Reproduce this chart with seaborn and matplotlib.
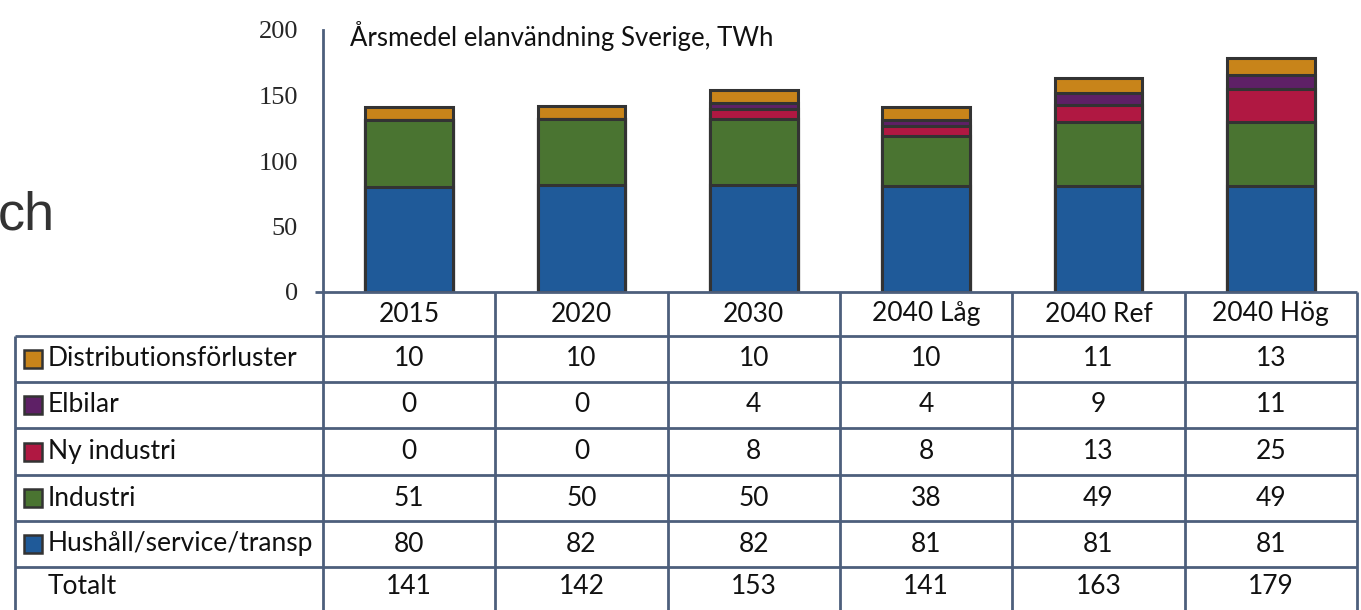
import numpy as np
import pandas as pd
import seaborn as sns
import matplotlib.pyplot as plt
from matplotlib.patches import Rectangle

# Data (TWh)
years = ["2015", "2020", "2030", "2040 Låg", "2040 Ref", "2040 Hög"]
hushall = [80, 82, 82, 81, 81, 81]
industri = [51, 50, 50, 38, 49, 49]
ny_industri = [0, 0, 8, 8, 13, 25]
elbilar = [0, 0, 4, 4, 9, 11]
distribution = [10, 10, 10, 10, 11, 13]
totalt = [141, 142, 153, 141, 163, 179]

series_names = ["Hushåll/service/transp", "Industri", "Ny industri", "Elbilar", "Distributionsförluster"]
series_vals = [hushall, industri, ny_industri, elbilar, distribution]
colors = ["#1F5A99", "#4A7431", "#B01842", "#5E2066", "#C8841A"]

df = pd.DataFrame(dict(zip(series_names, series_vals)), index=years)
cum = df.cumsum(axis=1)

sns.set_style("white")
plt.rcParams["font.family"] = ["Lato", "DejaVu Sans"]

W, H = 1361, 610
fig = plt.figure(figsize=(W / 100, H / 100), dpi=100)
line_c = "#4D5F7C"
edge_c = "#333333"

# bar axes: x from 323 to 1357 px, y from 292 (0) to 30 (200)
x0, x1, y0, y1 = 323, 1357, 292, 30
ax = fig.add_axes([x0 / W, 1 - y0 / H, (x1 - x0) / W, (y0 - y1) / H])

# draw cumulative bars from top to bottom so they overlap as a stack
for name, col in reversed(list(zip(series_names, colors))):
    sns.barplot(x=years, y=cum[name].values, color=col, width=0.51,
                edgecolor=edge_c, linewidth=2.2, saturation=1, ax=ax, zorder=2)

ax.set_xlim(-0.5, 5.5)
ax.set_ylim(0, 200)
ax.set_yticks([0, 50, 100, 150, 200])
ax.set_yticklabels(["0", "50", "100", "150", "200"], family="Liberation Serif", fontsize=19)
ax.set_xticks([])
ax.tick_params(axis="y", direction="out", length=6, width=2, color=line_c, pad=12)
for s in ["top", "right", "bottom"]:
    ax.spines[s].set_visible(False)
ax.spines["left"].set_color(line_c)
ax.spines["left"].set_linewidth(2)
ax.patch.set_alpha(0)
ax.text(0.026, 1.035, "Årsmedel elanvändning Sverige, TWh", transform=ax.transAxes,
        fontsize=18.5, va="top", ha="left", color="#111111")

# table overlay in pixel coordinates
t = fig.add_axes([0, 0, 1, 1])
t.set_xlim(0, W)
t.set_ylim(H, 0)
t.axis("off")

col_w = (x1 - x0) / len(years)
col_edges = [x0 + i * col_w for i in range(len(years) + 1)]
row_edges = [336, 382, 428, 475, 521, 567, 613]
lbl_left = 15
lw_t = 2

t.hlines(292, 315, x1, color=line_c, lw=lw_t)
t.hlines(row_edges[:-1], lbl_left, x1, color=line_c, lw=lw_t)
t.vlines(col_edges, 292, 615, color=line_c, lw=lw_t)
t.vlines(lbl_left, 336, 615, color=line_c, lw=lw_t)

fs = 19
for i, yr in enumerate(years):
    t.text((col_edges[i] + col_edges[i + 1]) / 2, 314, yr, ha="center", va="center",
           fontsize=fs, color="#111111")

row_labels = series_names[::-1] + ["Totalt"]
row_data = [distribution, elbilar, ny_industri, industri, hushall, totalt]
row_cols = colors[::-1] + [None]
for r, (lab, vals, c) in enumerate(zip(row_labels, row_data, row_cols)):
    yc = (row_edges[r] + row_edges[r + 1]) / 2
    if r == len(row_labels) - 1:
        yc -= 3
    if c is not None:
        t.add_patch(Rectangle((24, yc - 9), 18, 18, facecolor=c, edgecolor=edge_c, lw=1.8))
    t.text(48, yc, lab, ha="left", va="center", fontsize=fs, color="#111111")
    for i, v in enumerate(vals):
        t.text((col_edges[i] + col_edges[i + 1]) / 2, yc, str(v), ha="center", va="center",
               fontsize=fs, color="#111111")

# leftover text from the slide
fig.text(-0.002, 1 - 215 / H, "ch", fontsize=39, family="Liberation Sans",
         color="#333333", ha="left", va="center")

fig.savefig("out.png", dpi=100)
